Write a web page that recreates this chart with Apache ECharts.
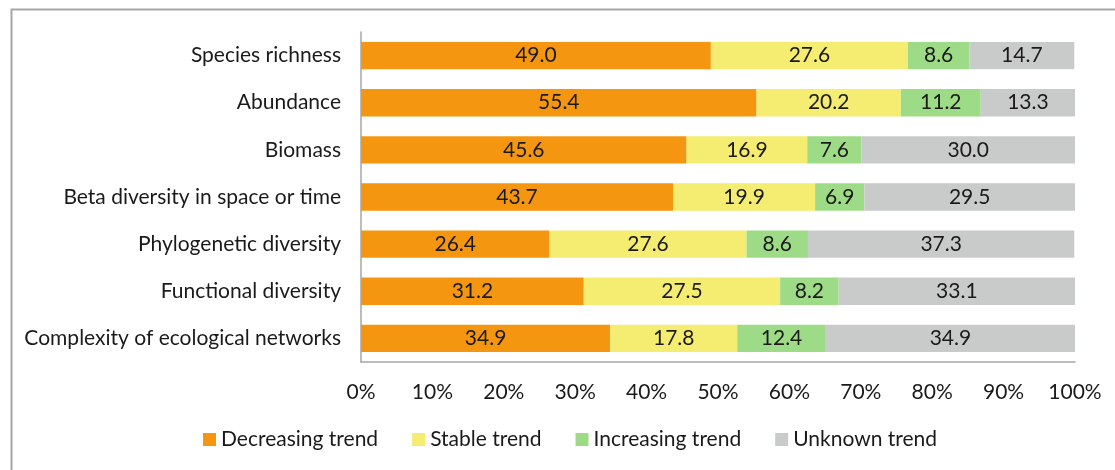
<!DOCTYPE html>
<html><head><meta charset="utf-8">
<script src="https://cdn.jsdelivr.net/npm/echarts@6/dist/echarts.min.js"></script>
<style>html,body{margin:0;padding:0;background:#fff;overflow:hidden}#c{width:1115px;height:470px}</style>
</head><body><div id="c"></div>
<script>
const categories = ["Species richness","Abundance","Biomass","Beta diversity in space or time","Phylogenetic diversity","Functional diversity","Complexity of ecological networks"];
const decreasing = [49.0,55.4,45.6,43.7,26.4,31.2,34.9];
const stable = [27.6,20.2,16.9,19.9,27.6,27.5,17.8];
const increasing = [8.6,11.2,7.6,6.9,8.6,8.2,12.4];
const unknown = [14.7,13.3,30.0,29.5,37.3,33.1,34.9];
const seriesNames = ["Decreasing trend","Stable trend","Increasing trend","Unknown trend"];
const colors = ["#F4960F","#F5EC72","#9DDB86","#C9CACA"];
const FONT = "Lato";
const FS = 21;
const chart = echarts.init(document.getElementById('c'));
const vals = [decreasing, stable, increasing, unknown];
chart.setOption({
  animation:false,
  textStyle:{fontFamily:FONT},
  graphic:[{type:'rect',left:9,top:7,shape:{width:1400,height:700},style:{fill:'none',stroke:'#A6A6A6',lineWidth:2},silent:true}],
  grid:{left:361,right:40,top:32,bottom:108},
  legend:{bottom:15,left:198,itemWidth:13,itemHeight:13,itemGap:34,icon:'rect',
    textStyle:{fontSize:FS,color:'#1a1a1a',fontFamily:FONT},data:seriesNames},
  xAxis:{type:'value',min:0,max:100,interval:10,
    axisLabel:{formatter:'{value}%',fontSize:FS,color:'#1a1a1a',margin:20,fontFamily:FONT},
    axisLine:{show:true,lineStyle:{color:'#A6A6A6',width:1.5}},axisTick:{show:false},splitLine:{show:false}},
  yAxis:{type:'category',data:categories,inverse:true,
    axisLabel:{fontSize:FS,color:'#1a1a1a',margin:20,fontFamily:FONT,padding:[4,0,0,0]},
    axisLine:{show:true,lineStyle:{color:'#A6A6A6',width:1.5}},axisTick:{show:false}},
  series: seriesNames.map((n,i)=>({name:n,type:'bar',stack:'t',data:vals[i],barWidth:'58%',
    itemStyle:{color:colors[i]},
    label:{show:true,position:'inside',formatter:p=>p.value.toFixed(1),fontSize:FS,color:'#1a1a1a',fontFamily:FONT}}))
});
</script></body></html>
